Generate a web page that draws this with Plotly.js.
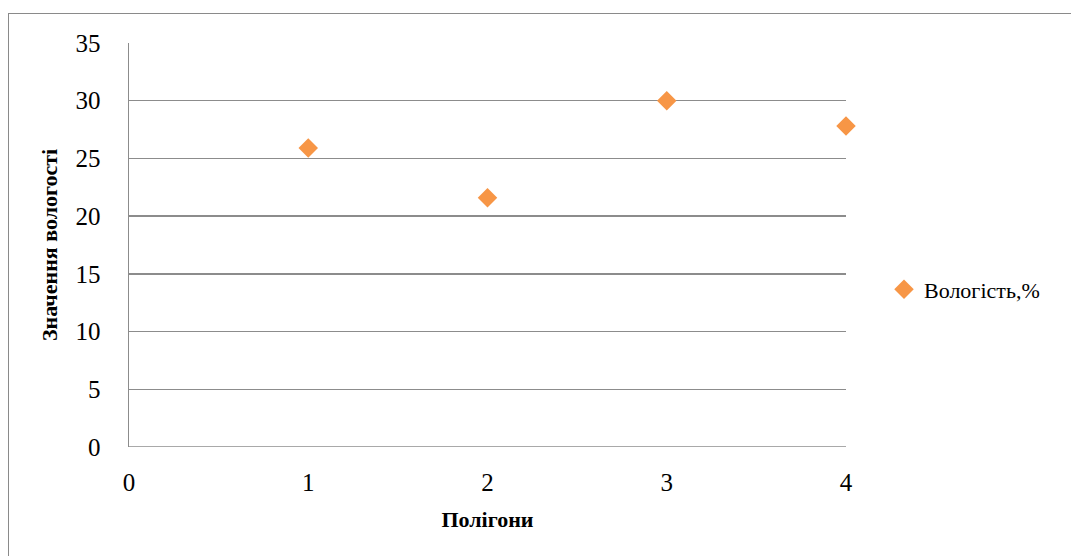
<!DOCTYPE html>
<html>
<head>
<meta charset="utf-8">
<script src="https://cdn.plot.ly/plotly-3.0.1.min.js"></script>
<style>
html,body{margin:0;padding:0;background:#fff;overflow:hidden;}
#wrap{position:relative;width:1071px;height:556px;overflow:hidden;}
#chart{position:absolute;left:0;top:0;width:1071px;height:556px;}
#frame{position:absolute;left:8px;top:13px;width:1100px;height:600px;border-left:1.5px solid #8a8a8a;border-top:1.5px solid #8a8a8a;pointer-events:none;}
#chart svg text, #chart svg tspan{font-family:'Liberation Serif', 'DejaVu Serif', serif !important;}
</style>
</head>
<body>
<div id="wrap"><div id="chart"></div><div id="frame"></div></div>
<script>
const polygons = [1, 2, 3, 4];
const moisture = [25.9, 21.6, 30.0, 27.8];
const seriesName = 'Вологість,%';
const xTicks = [0, 1, 2, 3, 4];
const yTicks = [0, 5, 10, 15, 20, 25, 30, 35];

const fontFam = 'Liberation Serif';

const trace = {
  x: polygons, y: moisture, type: 'scatter', mode: 'markers', name: seriesName,
  cliponaxis: false,
  marker: {symbol: 'diamond', size: 15, color: '#F79646', line: {width: 0}}
};

const layout = {
  width: 1071, height: 556,
  margin: {l: 129, r: 225, t: 43, b: 109},
  paper_bgcolor: '#fff', plot_bgcolor: '#fff',
  font: {family: fontFam, color: '#000', size: 25},
  showlegend: true,
  legend: {x: 1.053, y: 0.39, xanchor: 'left', yanchor: 'middle', font: {size: 22, family: fontFam, color: '#000'}, bgcolor: 'rgba(0,0,0,0)', itemwidth: 30},
  xaxis: {
    range: [0, 4], tickvals: xTicks, ticktext: xTicks.map(String),
    showgrid: false, zeroline: false, showline: false,
    ticks: '', ticklabelstandoff: 18, tickfont: {size: 25, family: fontFam, color: '#000'},
    title: {text: '<b>Полігони</b>', font: {size: 22, family: fontFam, color: '#000'}, standoff: 16}
  },
  yaxis: {
    range: [0, 35], tickvals: yTicks, ticktext: yTicks.map(String),
    showgrid: true, gridcolor: '#8c8c8c', gridwidth: 1.5,
    zeroline: false, showline: true, linecolor: '#8c8c8c', linewidth: 1.5,
    ticks: '', ticklabelstandoff: 22, tickfont: {size: 25, family: fontFam, color: '#000'},
    title: {text: '<b>Значення вологості</b>', font: {size: 22, family: fontFam, color: '#000'}, standoff: 12}
  },
  shapes: [{type: 'line', xref: 'paper', yref: 'y', x0: 0, x1: 1, y0: 0, y1: 0, line: {color: '#8c8c8c', width: 1.5}}]
};

Plotly.newPlot('chart', [trace], layout, {displayModeBar: false, staticPlot: true});
</script>
</body>
</html>
